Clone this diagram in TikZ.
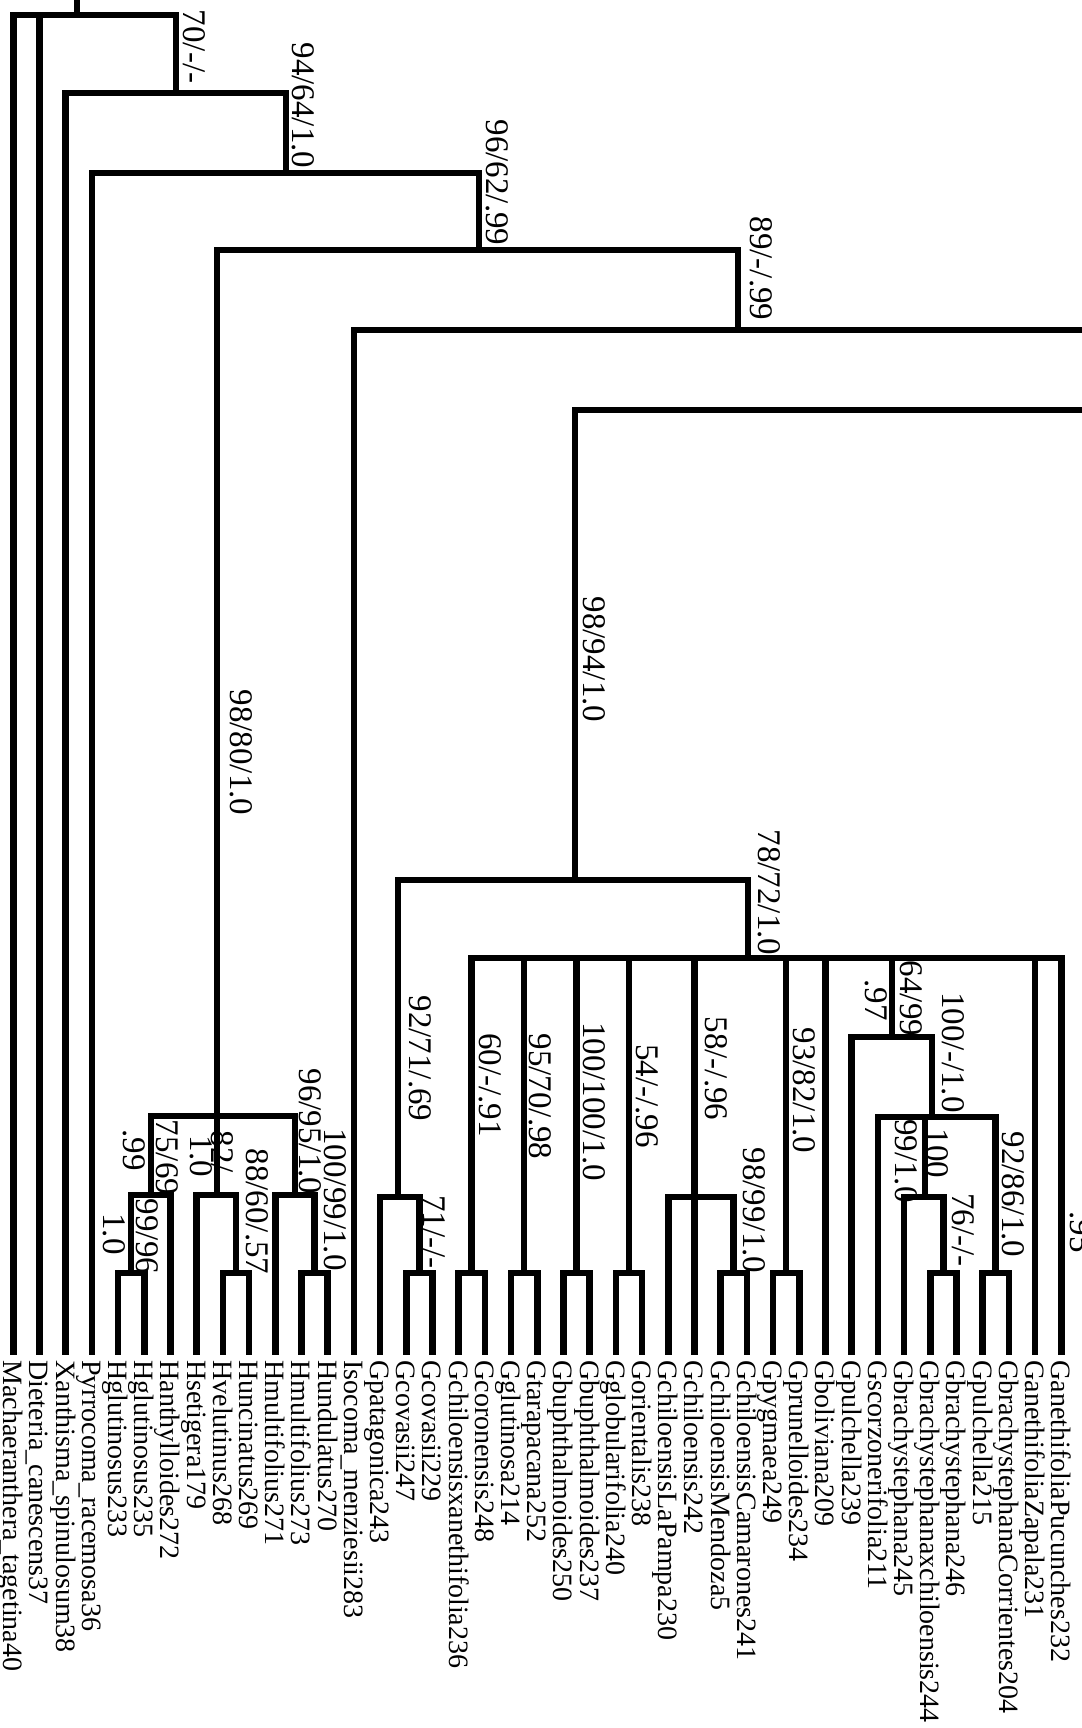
\documentclass[tikz,border=0pt]{standalone}
\usepackage{fontspec}
\setmainfont{Liberation Serif}
\begin{document}
\begin{tikzpicture}[x=0.5pt,y=-0.5pt,
  br/.style={line width=3.3pt, line cap=rect, line join=miter},
  lab/.style={rotate=-90, anchor=base, inner sep=0pt, font=\fontsize{16.5}{19}\selectfont},
  leaf/.style={rotate=-90, anchor=base west, inner sep=0pt, font=\fontsize{14}{16}\selectfont}]
\useasboundingbox (0,0) rectangle (1081,1728);

% leaves
\foreach \i/\nm in {0/Machaeranthera\_tagetina40, 1/Dieteria\_canescens37, 2/Xanthisma\_spinulosum38, 3/Pyrrocoma\_racemosa36,
  4/Hglutinosus233, 5/Hglutinosus235, 6/Hanthylloides272, 7/Hsetigera179, 8/Hvelutinus268, 9/Huncinatus269,
  10/Hmultifolius271, 11/Hmultifolius273, 12/Hundulatus270, 13/Isocoma\_menziesii283, 14/Gpatagonica243,
  15/Gcovasii247, 16/Gcovasii229, 17/Gchiloensisxanethifolia236, 18/Gcoronensis248, 19/Gglutinosa214,
  20/Gtarapacana252, 21/Gbuphthalmoides250, 22/Gbuphthalmoides237, 23/Gglobularifolia240, 24/Gorientalis238,
  25/GchiloensisLaPampa230, 26/Gchiloensis242, 27/GchiloensisMendoza5, 28/GchiloensisCamarones241,
  29/Gpygmaea249, 30/Gprunelloides234, 31/Gboliviana209, 32/Gpulchella239, 33/Gscorzonerifolia211,
  34/Gbrachystephana245, 35/Gbrachystephanaxchiloensis244, 36/Gbrachystephana246, 37/Gpulchella215,
  38/GbrachystephanaCorrientes204, 39/GanethifoliaZapala231, 40/GanethifoliaPucunches232}{
  \coordinate (L\i) at ({13.2+26.2*\i},1352);
  \node[leaf] (t\i) at ({13.2+26.2*\i-9.5},1360) {\nm};
}

% internal nodes
\coordinate (Rtop) at (77,1);
\coordinate (R) at (77,15);
\coordinate (N70) at (176,93);
\coordinate (N94) at (286,173);
\coordinate (N96) at (479,250);
\coordinate (N89) at (738,330);
\coordinate (E1) at (1090,330);
\coordinate (E2) at (1090,410);
\coordinate (NH) at (217,1116);
\coordinate (N75) at (151,1195);
\coordinate (P9) at (131.1,1273);
\coordinate (N82) at (217,1195);
\coordinate (P10) at (235.9,1273);
\coordinate (N96b) at (295,1195);
\coordinate (P11) at (314.5,1273);
\coordinate (NG) at (575,880);
\coordinate (NPat) at (398,1197);
\coordinate (PCov) at (419.3,1273);
\coordinate (NPoly) at (748,958);
\coordinate (P1) at (471.7,1273);
\coordinate (P2) at (524.1,1273);
\coordinate (P3) at (576.5,1273);
\coordinate (P4) at (628.9,1273);
\coordinate (NChil) at (694.4,1197);
\coordinate (P5) at (733.7,1273);
\coordinate (P6) at (786.1,1273);
\coordinate (N64) at (892,1037);
\coordinate (N100a) at (932,1117);
\coordinate (N100b) at (925,1197);
\coordinate (P7) at (943.3,1273);
\coordinate (P8) at (995.7,1273);

% support labels
\node[lab] (b70) at (183.5,46.5) {70/-/-};
\node[lab] (b94) at (292,105.5) {94/64/1.0};
\node[lab] (b96) at (486,182.5) {96/62/.99};
\node[lab] (b89) at (750,268.5) {89/-/.99};
\node[lab] (b9880) at (230,752.5) {98/80/1.0};
\node[lab] (b9894) at (583,659.5) {98/94/1.0};
\node[lab] (b78) at (758.5,892.5) {78/72/1.0};
\node[lab] (b75) at (156.5,1157.5) {75/69};
\node[lab] (b75b) at (123,1150) {.99};
\node[lab] (b99) at (136.5,1236.5) {99/96};
\node[lab] (b99b) at (103,1234) {1.0};
\node[lab] (b82) at (211.5,1157.5) {82/-};
\node[lab] (b82b) at (190,1156.5) {1.0};
\node[lab] (b88) at (246.5,1211.5) {88/60/.57};
\node[lab] (b9695) at (299.5,1131.5) {96/95/1.0};
\node[lab] (b10099h) at (324.5,1199.5) {100/99/1.0};
\node[lab] (b92) at (409.5,1058.5) {92/71/.69};
\node[lab] (b71) at (423,1232) {71/-/-};
\node[lab] (b60) at (479.5,1085) {60/-/.91};
\node[lab] (b95) at (529.5,1096.5) {95/70/.98};
\node[lab] (b100100) at (583.5,1101.5) {100/100/1.0};
\node[lab] (b54) at (636.5,1096) {54/-/.96};
\node[lab] (b58) at (705.5,1068.5) {58/-/.96};
\node[lab] (b9899) at (743,1210.5) {98/99/1.0};
\node[lab] (b93) at (793,1090.5) {93/82/1.0};
\node[lab] (b64) at (900,998.5) {64/99};
\node[lab] (b64b) at (865,1000) {.97};
\node[lab] (b100m) at (942.5,1052.5) {100/-/1.0};
\node[lab] (b100n) at (926.5,1153.5) {100};
\node[lab] (b100nb) at (895,1161) {99/1.0};
\node[lab] (b76) at (952.5,1230) {76/-/-};
\node[lab] (b9286) at (1002.5,1194.5) {92/86/1.0};
\node[lab] (bcut) at (1070,1232) {.95};

% branches
\draw[br] (R) -- (Rtop);
\foreach \p/\c in {R/L0, R/L1, R/N70, N70/L2, N70/N94, N94/L3, N94/N96, N96/NH, N96/N89, N89/L13,
  NH/N75, NH/N82, NH/N96b, N75/P9, N75/L6, P9/L4, P9/L5, N82/L7, N82/P10, P10/L8, P10/L9,
  N96b/L10, N96b/P11, P11/L11, P11/L12,
  NG/NPat, NG/NPoly, NPat/L14, NPat/PCov, PCov/L15, PCov/L16,
  NPoly/P1, P1/L17, P1/L18, NPoly/P2, P2/L19, P2/L20, NPoly/P3, P3/L21, P3/L22, NPoly/P4, P4/L23, P4/L24,
  NPoly/NChil, NChil/L25, NChil/L26, NChil/P5, P5/L27, P5/L28, NPoly/P6, P6/L29, P6/L30, NPoly/L31,
  NPoly/N64, N64/L32, N64/N100a, N100a/L33, N100a/N100b, N100b/L34, N100b/P7, P7/L35, P7/L36,
  N100a/P8, P8/L37, P8/L38, NPoly/L39, NPoly/L40}
  \draw[br] (\p) -| (\c);
\draw[br] (N89) -- (E1);
\draw[br] (E2) -| (NG);
\end{tikzpicture}
\end{document}
